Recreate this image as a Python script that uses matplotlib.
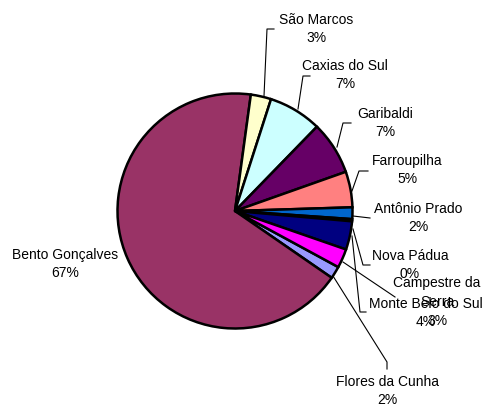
import matplotlib
matplotlib.use("Agg")
import matplotlib.pyplot as plt

# municipalities in the order the slices are drawn (clockwise)
cities = ["Flores da Cunha", "Bento Gonçalves", "São Marcos", "Caxias do Sul",
          "Garibaldi", "Farroupilha", "Antônio Prado", "Nova Pádua",
          "Monte Belo do Sul", "Campestre da\nSerra"]
shares = [1.7, 67.4, 2.8, 7.3, 7.3, 4.9, 1.6, 0.3, 3.9, 2.6]
colors = ["#9999FF", "#993366", "#FFFFCC", "#CCFFFF", "#660066",
          "#FF8080", "#0066CC", "#CCCCFF", "#000080", "#FF00FF"]

W, H = 488, 410
cx, cy, r = 235, 212, 117.5

# label centres and leader lines, in pixel coords (y down)
label_pos = [(387, 391), (65, 264), (316, 29), (345, 75), (385, 123),
             (407, 170), (418, 218), (410, 265), (426, 313), (437, 302)]
leaders = [
    [(333, 277), (387, 363), (387, 370)],
    None,
    [(264, 97), (267, 30), (274, 30)],
    [(298, 110), (303, 77), (310, 77)],
    [(337, 148), (343, 124), (351, 124)],
    [(352, 192), (359, 172), (368, 172)],
    [(353, 217), (370, 219)],
    [(353, 230), (363, 266), (370, 266)],
    [(352, 237), (360, 313), (366, 313)],
    [(343, 263), (395, 298)],
]

fig = plt.figure(figsize=(W / 100, H / 100), dpi=100)
ax = fig.add_axes([0, 0, 1, 1])

ax.pie(shares, colors=colors, startangle=-28.5, counterclock=False,
       center=(cx, H - cy), radius=r,
       wedgeprops=dict(edgecolor="black", linewidth=1.8))

ax.set_xlim(0, W)
ax.set_ylim(0, H)
ax.set_aspect("equal")
ax.axis("off")

for name, val, (lx, ly), pts in zip(cities, shares, label_pos, leaders):
    if pts:
        ax.plot([p[0] for p in pts], [H - p[1] for p in pts],
                color="black", linewidth=0.8)
    ax.text(lx, H - ly, f"{name}\n{round(val)}%", ha="center", va="center",
            fontsize=10, family="Liberation Sans", linespacing=1.45)

fig.savefig("out.png", dpi=100)
